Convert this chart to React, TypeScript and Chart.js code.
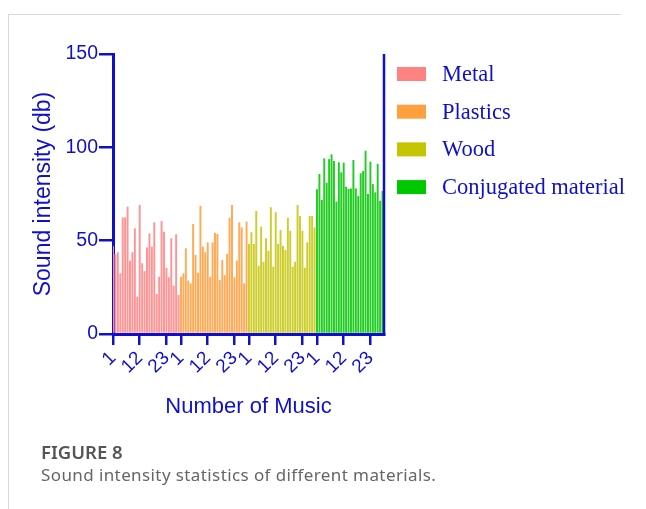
import { useEffect, useRef } from "react";
import { Chart, registerables } from "chart.js";

Chart.register(...registerables);

// ---- data ----
const materials = ["Metal", "Plastics", "Wood", "Conjugated material"];
const metal = [47, 42.7, 43.8, 32.5, 62.5, 62.5, 68.2, 39.3, 43.8, 56.6, 20, 69.1, 37.9, 33.7, 46.4, 53.9, 46.8, 59.8, 21.4, 30.7, 60.5, 54.8, 35.5, 30.4, 51.3, 25.9, 53.4, 20.9];
const plastics = [30.7, 32.5, 45.9, 28.6, 27.1, 58.9, 42.3, 32.8, 68.7, 46.8, 43.8, 49.1, 30.7, 49.1, 54.3, 53.6, 28.9, 39.6, 31.6, 42.9, 62.3, 69.1, 30.4, 39.3, 59.8, 57.1, 27.1, 60.2];
const wood = [48.2, 54.5, 48.2, 65.9, 36.6, 57.5, 38.7, 51.3, 44.6, 67.9, 36.1, 65.2, 48.2, 55.7, 47.1, 45, 62.3, 55.3, 36.1, 38.7, 69.1, 63.2, 55.3, 35.5, 49.1, 63.2, 63.2, 57.1];
const conjugated = [77.5, 85.7, 71.8, 94.1, 81, 93.7, 96.2, 92.7, 70.9, 92, 86.6, 91.8, 78.9, 77.7, 78, 93.2, 78, 73.9, 86.1, 87.3, 98.2, 75, 92.3, 80.3, 75.9, 91.1, 71.4, 76.6];
const seriesValues = [metal, plastics, wood, conjugated];
const groupSize = 28;
const xTickNumbers = [1, 12, 23];
const yTicks = [0, 50, 100, 150];

// ---- styles ----
const BLUE = "#1010CC";
const barColors = ["#FF9494", "#FFAA55", "#CDCD2C", "#22CC22"];
const legendColors = ["#FF8282", "#FFA040", "#C4C400", "#00C800"];

const xTickValues: number[] = [];
for (let g = 0; g < materials.length; g++) {
  for (const n of xTickNumbers) xTickValues.push(g * groupSize + n);
}

export default function App() {
  const ref = useRef<HTMLCanvasElement | null>(null);

  useEffect(() => {
    if (!ref.current) return;
    const datasets = seriesValues.map((vals, g) => ({
      label: materials[g],
      data: vals.map((v, i) => ({ x: g * groupSize + i + 1, y: v })),
      backgroundColor: barColors[g],
      borderWidth: 0,
      grouped: false,
      barPercentage: 0.8,
      categoryPercentage: 1,
    }));

    const overlay = {
      id: "overlay",
      afterDraw(chart: any) {
        const { ctx, chartArea } = chart;
        ctx.save();
        // right frame line
        ctx.strokeStyle = BLUE;
        ctx.lineWidth = 2.5;
        ctx.beginPath();
        ctx.moveTo(chartArea.right, chartArea.top);
        ctx.lineTo(chartArea.right, chartArea.bottom + 1);
        ctx.stroke();
        // legend
        ctx.font = '22.5px "Liberation Serif"';
        ctx.textBaseline = "middle";
        ctx.textAlign = "left";
        materials.forEach((m, i) => {
          const cy = 74 + i * 37.7;
          ctx.fillStyle = legendColors[i];
          ctx.fillRect(397, cy - 7, 29, 14);
          ctx.fillStyle = BLUE;
          ctx.fillText(m, 442, cy + 1);
        });
        ctx.restore();
      },
    };

    const chart = new Chart(ref.current, {
      type: "bar",
      data: { datasets },
      plugins: [overlay],
      options: {
        responsive: false,
        animation: false,
        layout: { padding: { left: 0, top: 54, right: 262, bottom: 0 } },
        plugins: { legend: { display: false }, tooltip: { enabled: false } },
        scales: {
          x: {
            type: "linear",
            offset: false,
            min: 1,
            max: 112.6,
            afterBuildTicks: (s: any) => {
              s.ticks = xTickValues.map((v) => ({ value: v }));
            },
            afterFit: (s: any) => {
              s.height = 175;
            },
            ticks: {
              autoSkip: false,
              maxRotation: 45,
              minRotation: 45,
              color: BLUE,
              padding: 2,
              font: { family: "Liberation Sans", size: 19 },
              callback: (v: any) => String(((Number(v) - 1) % groupSize) + 1),
            },
            grid: { offset: false, drawOnChartArea: false, drawTicks: true, tickLength: 11, color: BLUE, lineWidth: 2.5 },
            border: { color: BLUE, width: 3 },
            title: {
              display: true,
              text: "Number of Music",
              color: BLUE,
              font: { family: "Liberation Sans", size: 22 },
              padding: { top: 0, bottom: 89 },
            },
          },
          y: {
            min: 0,
            max: 150,
            afterBuildTicks: (s: any) => {
              s.ticks = yTicks.map((v) => ({ value: v }));
            },
            afterFit: (s: any) => {
              s.width = 113;
            },
            ticks: {
              color: BLUE,
              padding: 1,
              font: { family: "Liberation Sans", size: 19.5 },
            },
            grid: { drawOnChartArea: false, drawTicks: true, tickLength: 14, color: BLUE, lineWidth: 2.5 },
            border: { color: BLUE, width: 3 },
            title: {
              display: true,
              text: "Sound intensity (db)",
              color: BLUE,
              font: { family: "Liberation Sans", size: 23 },
              padding: { top: 30, bottom: 0 },
            },
          },
        },
      },
    } as any);
    return () => chart.destroy();
  }, []);

  return (
    <div style={{ position: "fixed", left: 0, top: 0, width: 646, height: 509, background: "#fff", overflow: "hidden" }}>
      <div
        style={{
          position: "absolute",
          left: 8,
          top: 14,
          width: 612,
          height: 500,
          borderTop: "1px solid #d9d9d9",
          borderLeft: "1px solid #d9d9d9",
        }}
      />
      <canvas ref={ref} width={646} height={509} style={{ position: "absolute", left: 0, top: 0 }} />
      <div
        style={{
          position: "absolute",
          left: 41,
          top: 440,
          fontFamily: '"Noto Sans", sans-serif',
          fontSize: 18.5,
          fontWeight: 600,
          lineHeight: "24px",
          color: "#555",
        }}
      >
        FIGURE 8
      </div>
      <div
        style={{
          position: "absolute",
          left: 41,
          top: 464,
          fontFamily: '"Noto Sans", sans-serif',
          fontSize: 17,
          letterSpacing: 0.4,
          lineHeight: "22px",
          color: "#666",
          whiteSpace: "nowrap",
        }}
      >
        Sound intensity statistics of different materials.
      </div>
    </div>
  );
}
